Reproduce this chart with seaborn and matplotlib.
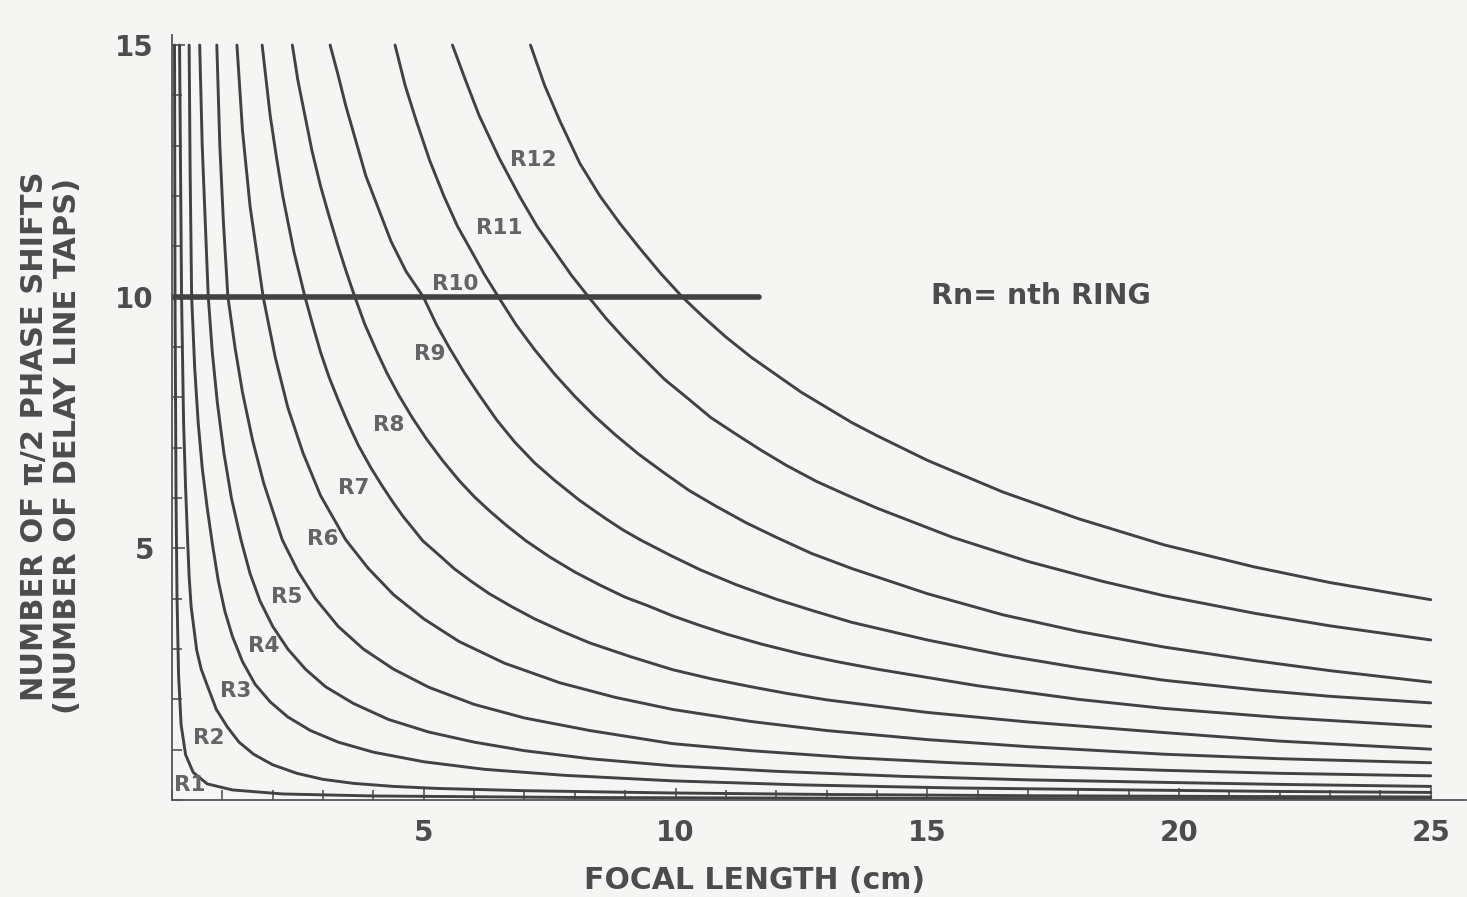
import matplotlib
matplotlib.use("Agg")
import matplotlib.pyplot as plt
import seaborn as sns
import pandas as pd
from matplotlib.ticker import FixedLocator, MultipleLocator

# ---- curve data: focal length (cm) vs number of pi/2 phase shifts, one pair per ring ----
r1_focal = [0.05, 0.06, 0.08, 0.10, 0.13, 0.18, 0.27, 0.42, 0.70, 1.2, 2.2, 4.0, 8.0, 15.0, 25.0]
r1_shifts = [15.0, 10.0, 6.0, 4.0, 2.5, 1.5, 0.9, 0.55, 0.32, 0.20, 0.12, 0.08, 0.05, 0.03, 0.02]

r2_focal = [0.15, 0.17, 0.19, 0.23, 0.27, 0.31, 0.34, 0.38, 0.49, 0.58, 0.71, 0.88, 1.10, 1.33,
            1.62, 2.00, 2.48, 3.00, 3.61, 4.40, 5.26, 7.0, 9.9, 13.0, 17.0, 21.0, 25.0]
r2_shifts = [15.0, 12.5, 10.0, 7.5, 6.2, 5.17, 4.45, 3.84, 2.98, 2.60, 2.25, 1.80, 1.45, 1.15,
             0.91, 0.70, 0.53, 0.41, 0.33, 0.27, 0.23, 0.185, 0.14, 0.11, 0.085, 0.07, 0.06]

r3_focal = [0.34, 0.36, 0.39, 0.45, 0.52, 0.60, 0.70, 0.80, 0.92, 1.05, 1.20, 1.40, 1.65, 1.95,
            2.30, 2.75, 3.30, 4.0, 5.0, 6.2, 7.8, 9.95, 12.5, 15.5, 19.0, 22.0, 25.0]
r3_shifts = [15.0, 12.5, 10.0, 8.6, 7.5, 6.6, 5.8, 5.1, 4.35, 3.75, 3.25, 2.75, 2.30, 1.95,
             1.65, 1.38, 1.15, 0.95, 0.76, 0.61, 0.49, 0.38, 0.30, 0.24, 0.20, 0.17, 0.15]

r4_focal = [0.55, 0.60, 0.66, 0.72, 0.80, 0.90, 1.03, 1.18, 1.37, 1.55, 1.75, 2.0, 2.3, 2.65,
            3.05, 3.6, 4.3, 5.1, 6.0, 7.0, 8.3, 9.94, 12.0, 14.5, 17.0, 19.7, 22.0, 25.0]
r4_shifts = [15.0, 13.0, 11.5, 10.0, 8.9, 7.9, 6.9, 6.0, 5.17, 4.5, 3.95, 3.45, 3.0, 2.6,
             2.25, 1.92, 1.60, 1.35, 1.15, 0.98, 0.82, 0.68, 0.57, 0.47, 0.40, 0.35, 0.31, 0.27]

r5_focal = [0.89, 0.95, 1.02, 1.11, 1.25, 1.40, 1.60, 1.82, 2.19, 2.5, 2.85, 3.3, 3.8, 4.4,
            5.1, 6.0, 7.0, 8.3, 9.94, 11.5, 13.5, 15.5, 17.5, 19.7, 22.0, 25.0]
r5_shifts = [15.0, 13.0, 11.5, 10.0, 9.0, 8.1, 7.15, 6.3, 5.17, 4.55, 4.0, 3.45, 3.0, 2.6,
             2.24, 1.90, 1.63, 1.38, 1.12, 0.98, 0.84, 0.74, 0.66, 0.59, 0.53, 0.48]

r6_focal = [1.29, 1.40, 1.55, 1.81, 2.05, 2.30, 2.60, 2.95, 3.45, 3.9, 4.4, 5.0, 5.7, 6.6,
            7.7, 8.8, 9.94, 11.5, 13.0, 15.0, 17.0, 19.7, 22.0, 25.0]
r6_shifts = [15.0, 13.3, 11.8, 10.0, 8.8, 7.8, 6.9, 6.05, 5.17, 4.6, 4.08, 3.6, 3.15, 2.72,
             2.33, 2.04, 1.80, 1.56, 1.38, 1.20, 1.06, 0.91, 0.82, 0.74]

r7_focal = [1.79, 1.87, 1.95, 2.07, 2.20, 2.31, 2.42, 2.53, 2.64, 2.80,
            2.95, 3.12, 3.30, 3.50, 3.70, 3.95, 4.20, 4.40, 4.60, 4.78,
            4.98, 5.3, 5.6, 5.95, 6.3, 6.75, 7.2, 7.75, 8.3, 9.1,
            9.94, 10.7, 11.5, 12.2, 13.0, 15.0, 17.0, 19.7, 22.0, 25.0]
r7_shifts = [15.0, 14.3, 13.6, 12.8, 12.0, 11.45, 10.9, 10.45, 10.0, 9.42,
             8.9, 8.4, 7.95, 7.48, 7.05, 6.6, 6.2, 5.9, 5.62, 5.4,
             5.15, 4.87, 4.6, 4.34, 4.1, 3.84, 3.6, 3.35, 3.12, 2.85,
             2.59, 2.41, 2.25, 2.12, 1.99, 1.74, 1.55, 1.34, 1.17, 1.01]

r8_focal = [2.39, 2.5, 2.62, 2.78, 2.95, 3.12, 3.30, 3.46, 3.63, 3.83,
            4.05, 4.27, 4.50, 4.77, 5.05, 5.37, 5.70, 6.0, 6.30, 6.65,
            7.03, 7.5, 8.0, 8.5, 9.0, 9.45, 9.94, 10.45, 11.0, 11.7,
            12.5, 13.2, 14.0, 16.0, 18.0, 19.7, 22.0, 25.0]
r8_shifts = [15.0, 14.3, 13.7, 12.9, 12.2, 11.6, 11.0, 10.5, 10.0, 9.45,
             8.95, 8.48, 8.05, 7.6, 7.18, 6.75, 6.35, 6.03, 5.75, 5.45,
             5.15, 4.83, 4.53, 4.27, 4.03, 3.86, 3.66, 3.48, 3.30, 3.1,
             2.90, 2.75, 2.60, 2.27, 2.00, 1.82, 1.64, 1.46]

r9_focal = [3.14, 3.3, 3.45, 3.65, 3.85, 4.1, 4.35, 4.65, 4.99, 5.25,
            5.5, 5.8, 6.1, 6.45, 6.8, 7.2, 7.6, 8.1, 8.6, 8.95,
            9.3, 9.9, 10.5, 11.2, 12.0, 12.7, 13.5, 15.0, 16.5, 18.0,
            19.7, 21.5, 23.0, 25.0]
r9_shifts = [15.0, 14.4, 13.8, 13.1, 12.4, 11.75, 11.1, 10.5, 10.0, 9.45,
             9.0, 8.5, 8.05, 7.55, 7.12, 6.7, 6.35, 5.95, 5.6, 5.37,
             5.17, 4.86, 4.57, 4.28, 3.99, 3.77, 3.53, 3.18, 2.88, 2.63,
             2.38, 2.19, 2.06, 1.93]

r10_focal = [4.43, 4.63, 4.85, 5.12, 5.40, 5.67, 5.95, 6.2, 6.48, 6.83,
             7.2, 7.6, 8.0, 8.4, 8.8, 9.27, 9.76, 10.27, 10.8, 11.4,
             12.0, 12.7, 13.5, 15.0, 16.5, 18.0, 19.7, 21.5, 23.0, 25.0]
r10_shifts = [15.0, 14.2, 13.5, 12.7, 12.0, 11.4, 10.9, 10.45, 10.0, 9.45,
              8.95, 8.46, 8.02, 7.62, 7.26, 6.87, 6.51, 6.15, 5.84, 5.51,
              5.22, 4.9, 4.60, 4.10, 3.68, 3.35, 3.04, 2.77, 2.57, 2.34]

r11_focal = [5.57, 5.83, 6.1, 6.5, 6.9, 7.25, 7.6, 7.93, 8.27, 8.62,
             9.0, 9.38, 9.78, 10.22, 10.7, 11.2, 11.7, 12.2, 12.8, 13.4,
             14.0, 15.5, 17.0, 18.5, 19.7, 21.5, 23.0, 25.0]
r11_shifts = [15.0, 14.3, 13.6, 12.75, 12.0, 11.4, 10.9, 10.43, 10.0, 9.57,
              9.15, 8.76, 8.36, 8.0, 7.6, 7.27, 6.95, 6.65, 6.33, 6.06,
              5.80, 5.22, 4.74, 4.34, 4.06, 3.71, 3.46, 3.18]

r12_focal = [7.12, 7.4, 7.7, 8.1, 8.5, 8.9, 9.3, 9.7, 10.13, 10.55,
             11.0, 11.5, 12.0, 12.5, 13.0, 13.5, 14.0, 15.0, 16.5, 18.0,
             19.7, 21.5, 23.0, 25.0]
r12_shifts = [15.0, 14.2, 13.5, 12.65, 12.0, 11.45, 10.95, 10.47, 10.0, 9.6,
              9.2, 8.8, 8.45, 8.1, 7.8, 7.5, 7.24, 6.75, 6.12, 5.59,
              5.07, 4.63, 4.32, 3.98]

# delay line tap level drawn across the left part of the chart
tap_focal = [0.0, 11.65]
tap_shifts = [10.0, 10.0]

# ring labels
label_text = ["R1", "R2", "R3", "R4", "R5", "R6", "R7", "R8", "R9", "R10", "R11", "R12"]
label_x = [0.36, 0.73, 1.27, 1.82, 2.28, 2.99, 3.60, 4.30, 5.11, 5.62, 6.50, 7.18]
label_y = [0.29, 1.23, 2.17, 3.05, 4.04, 5.18, 6.19, 7.46, 8.86, 10.25, 11.37, 12.72]

x_ticks = [5, 10, 15, 20, 25]
y_ticks = [5, 10, 15]

rings = [
    (r1_focal, r1_shifts), (r2_focal, r2_shifts), (r3_focal, r3_shifts),
    (r4_focal, r4_shifts), (r5_focal, r5_shifts), (r6_focal, r6_shifts),
    (r7_focal, r7_shifts), (r8_focal, r8_shifts), (r9_focal, r9_shifts),
    (r10_focal, r10_shifts), (r11_focal, r11_shifts), (r12_focal, r12_shifts),
]
frames = []
for name, (f, n) in zip(label_text, rings):
    frames.append(pd.DataFrame({"focal": f, "shifts": n, "ring": name}))
df = pd.concat(frames, ignore_index=True)

sns.set_theme(style="ticks")
plt.rcParams["font.family"] = ["DejaVu Sans"]

BG = "#f5f5f3"
INK = "#424242"
TXT = "#4c4c4c"

fig = plt.figure(figsize=(14.67, 8.97), dpi=100, facecolor=BG)
ax = fig.add_axes([172 / 1467, 97 / 897, 1294 / 1467, 765 / 897], facecolor=BG)

sns.lineplot(data=df, x="focal", y="shifts", units="ring", estimator=None, sort=False,
             color=INK, linewidth=2.1, ax=ax, legend=False)
sns.lineplot(x=tap_focal, y=tap_shifts, color=INK, linewidth=4.0, ax=ax)

for t, lx, ly in zip(label_text, label_x, label_y):
    ax.text(lx, ly, t, ha="center", va="center", fontsize=15.5, fontweight="bold",
            color="#646464")

ax.text(17.25, 10.02, "Rn= nth RING", ha="center", va="center", fontsize=20.5,
        fontweight="bold", color=TXT)

ax.set_xlim(0, 25.7)
ax.set_ylim(0, 15.2)

ax.xaxis.set_major_locator(FixedLocator(x_ticks))
ax.yaxis.set_major_locator(FixedLocator(y_ticks))
ax.xaxis.set_minor_locator(MultipleLocator(1))
ax.yaxis.set_minor_locator(MultipleLocator(1))
ax.set_xticklabels([str(v) for v in x_ticks])
ax.set_yticklabels([str(v) for v in y_ticks])
ax.tick_params(which="both", direction="in", color="#555555", width=1.2)
ax.tick_params(which="major", length=9, labelsize=20, labelcolor=TXT)
ax.tick_params(which="minor", length=7)
ax.tick_params(axis="x", which="major", pad=14)
ax.tick_params(axis="y", which="major", pad=13)
for lab in ax.get_xticklabels() + ax.get_yticklabels():
    lab.set_fontweight("bold")

for side in ["top", "right"]:
    ax.spines[side].set_visible(False)
for side in ["left", "bottom"]:
    ax.spines[side].set_color("#555555")
    ax.spines[side].set_linewidth(1.3)

ax.set_xlabel("")
ax.set_ylabel("")

fig.text(755 / 1467, 1 - 880 / 897, "FOCAL LENGTH (cm)", ha="center", va="center",
         fontsize=21.5, fontweight="bold", color=TXT)
fig.text(35 / 1467, 1 - 436 / 897, "NUMBER OF \u03c0/2 PHASE SHIFTS", rotation=90,
         ha="center", va="center", fontsize=22, fontweight="bold", color=TXT)
fig.text(68 / 1467, 1 - 446 / 897, "(NUMBER OF DELAY LINE TAPS)", rotation=90,
         ha="center", va="center", fontsize=22, fontweight="bold", color=TXT)

fig.savefig("out.png", dpi=100, facecolor=BG)
